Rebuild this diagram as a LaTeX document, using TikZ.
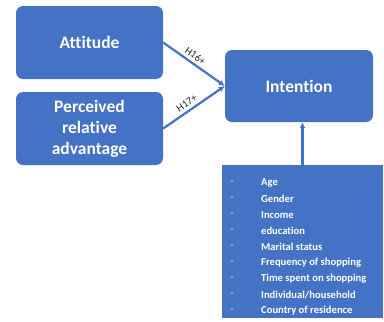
\documentclass[tikz,border=0pt]{standalone}
\usepackage{fontspec}
\setmainfont{Carlito}[Ligatures=NoCommon]
\usetikzlibrary{arrows.meta}
\definecolor{boxblue}{HTML}{4472C4}
\definecolor{dashblue}{HTML}{A9C1EA}
\definecolor{labelgrey}{HTML}{262626}
\tikzset{
  factor/.style={fill=boxblue, rounded corners=7pt, text=white, font=\bfseries\fontsize{17.5}{21}\selectfont,
    minimum width=147pt, minimum height=73pt, align=center, inner sep=0pt},
  link/.style={draw=boxblue, line width=2.2pt, -{Latex[length=6pt,width=6pt]}},
  hyp/.style={font=\fontsize{10.5}{11}\selectfont, text=labelgrey, inner sep=0pt},
  bullet/.style={text=dashblue, font=\bfseries\fontsize{11}{12}\selectfont, inner sep=0pt},
  item/.style={text=white, font=\bfseries\fontsize{10.6}{12}\selectfont, anchor=west, inner sep=0pt}
}
\begin{document}
\begin{tikzpicture}[x=1pt, y=-1pt]
  \useasboundingbox (0,0) rectangle (384,322);
  \fill[white] (0,0) rectangle (384,322);

  % construct boxes
  \node[factor] (att) at (89.5,42.5) {Attitude};
  \node[factor] (pra) at (89.5,128.5) {Perceived\\relative\\advantage};
  \node[factor, minimum width=148pt, minimum height=72pt] (int) at (299,86) {Intention};

  % control variables box
  \node[fill=boxblue, minimum width=161pt, minimum height=153pt, inner sep=0pt] (ctl) at (302.5,241.5) {};

  % hypothesised paths
  \draw[link] (att.east) -- (int.west) node[hyp, pos=0.45, sloped, above=3pt] (h16) {H16+};
  \draw[link] (pra.east) -- (int.west) node[hyp, pos=0.45, sloped, above=3pt] (h17) {H17+};
  \draw[link] (ctl.north) -- (ctl.north |- int.south);

  % control variables
  \foreach \i/\t in {0/Age, 1/Gender, 2/Income, 3/education, 4/Marital status,
      5/Frequency of shopping, 6/Time spent on shopping, 7/{Individual/household},
      8/Country of residence} {
    \node[bullet] (d\i) at (232,183+16*\i) {-};
    \node[item] (c\i) at (261,183+16*\i) {\t};
  }
\end{tikzpicture}
\end{document}
